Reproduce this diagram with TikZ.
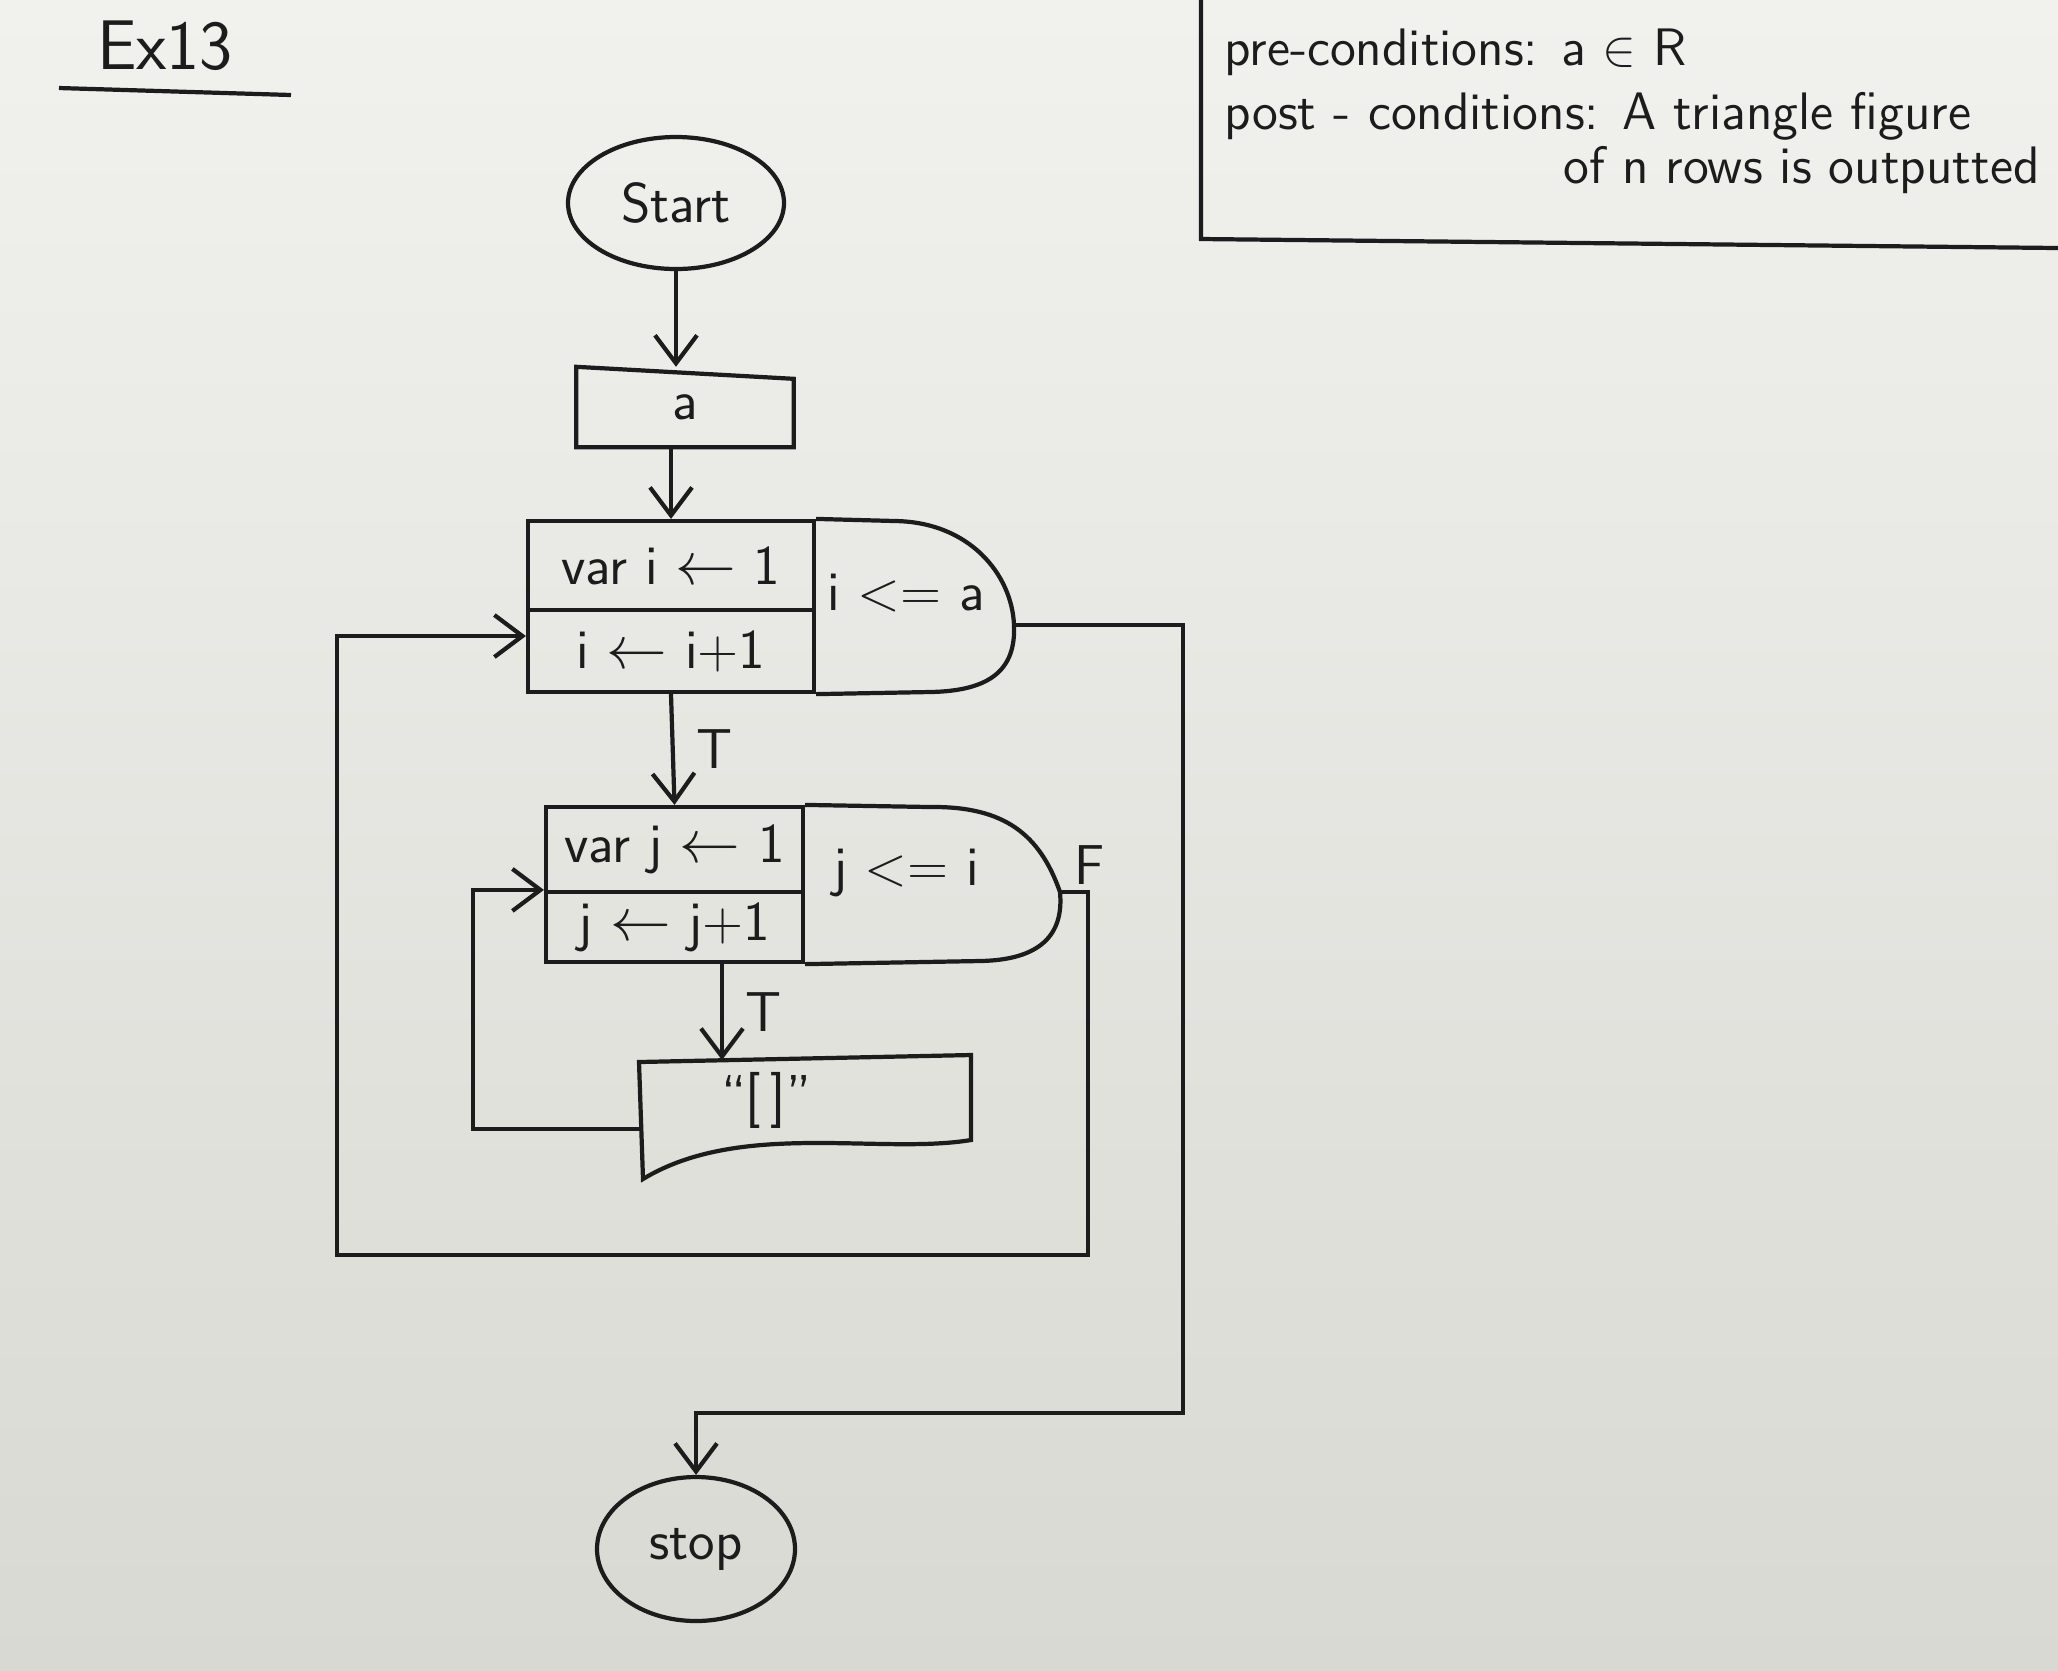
\documentclass[tikz,border=0pt]{standalone}
\usetikzlibrary{shapes,backgrounds}
\usetikzlibrary{arrows.meta,calc}
\definecolor{paper}{HTML}{F1F1EE}
\definecolor{paperlow}{HTML}{D9D9D3}
\definecolor{ink}{HTML}{1C1C1C}

\begin{document}
\begin{tikzpicture}[
  every node/.style={font=\sffamily\fontsize{16}{19}\selectfont, text=ink},
  pen/.style={draw=ink, line width=1.2pt},
  arr/.style={pen, -{Straight Barb[length=2.8mm,width=4.2mm]}},
  cell/.style={pen, rectangle, minimum width=2.86cm, inner sep=0pt},
  term/.style={pen, ellipse, inner sep=1pt},
  note/.style={font=\sffamily\fontsize{15}{18}\selectfont}
]
\shade[top color=paper, bottom color=paperlow] (0,0) rectangle (20.58,-16.70);
\useasboundingbox (0,0) rectangle (20.58,-16.70);

\node[font=\sffamily\fontsize{20}{24}\selectfont] (title) at (1.65,-0.46) {Ex13};
\draw[pen] (0.59,-0.88) -- (2.91,-0.95);

\draw[pen] (12.01,0) -- (12.01,-2.39) -- (20.58,-2.48);
\node[note, anchor=west] (pre) at (12.12,-0.52) {pre-conditions: a $\in$ R};
\node[note, anchor=west] (post) at (12.12,-1.16) {post - conditions: A triangle figure};
\node[note, anchor=east] (rows) at (20.52,-1.70) {of n rows is outputted};

\node[term, minimum width=2.16cm, minimum height=1.32cm] (start) at (6.76,-2.03) {Start};
\node[minimum width=2.16cm, minimum height=0.79cm, inner sep=0pt] (inp) at (6.85,-4.07) {a};
\draw[pen] (inp.south west) -- (inp.north west) -- ([yshift=-1.2mm]inp.north east) -- (inp.south east) -- cycle;

\node[cell, minimum height=0.89cm] (init1) at (6.71,-5.655) {var i $\leftarrow$ 1};
\node[cell, minimum height=0.82cm] (step1) at (6.71,-6.51) {i $\leftarrow$ i+1};
\coordinate (tip1) at (10.14,-6.25);
\draw[pen] (init1.north east) -- (8.95,-5.21) .. controls (9.7,-5.22) and (10.12,-5.75) .. (tip1) .. controls (10.16,-6.7) and (9.9,-6.91) .. (9.3,-6.92) -- (step1.south east);
\node (cond1) at (9.06,-5.93) {i \textless= a};

\node[cell, minimum width=2.57cm, minimum height=0.85cm] (init2) at (6.745,-8.495) {var j $\leftarrow$ 1};
\node[cell, minimum width=2.57cm, minimum height=0.70cm] (step2) at (6.745,-9.27) {j $\leftarrow$ j+1};
\coordinate (tip2) at (10.60,-8.92);
\draw[pen] (init2.north east) -- (9.3,-8.07) .. controls (10.05,-8.06) and (10.4,-8.35) .. (tip2) .. controls (10.64,-9.35) and (10.4,-9.6) .. (9.8,-9.61) -- (step2.south east);
\node (cond2) at (9.06,-8.73) {j \textless= i};
\node (fl) at (10.90,-8.65) {F};

\node (outp) at (7.66,-11.0) {``[\,]''};
\draw[pen] (6.39,-10.62) -- (9.71,-10.55) -- (9.71,-11.40) .. controls (8.8,-11.55) and (7.4,-11.2) .. (6.43,-11.79) -- cycle;
\coordinate (outtop) at (7.22,-10.60);
\coordinate (outleft) at (6.41,-11.29);

\node[term, minimum width=1.98cm, minimum height=1.44cm] (stop) at (6.96,-15.49) {stop};

\draw[arr] (start) -- (start |- inp.north);
\draw[arr] (init1.north |- inp.south) -- (init1.north);
\draw[arr] (step1.south) -- (init2.north) node[midway, right=1mm] (t1) {T};
\draw[arr] (step2.south -| outtop) -- (outtop) node[midway, right=1mm] (t2) {T};
\draw[arr] (outleft) -- (4.73,-11.29) |- (step2.north west);
\draw[arr] (tip2) -- (10.88,-8.92) -- (10.88,-12.55) -- (3.37,-12.55) |- ([yshift=1.5mm]step1.west);
\draw[arr] (tip1) -- (11.83,-6.25) -- (11.83,-14.13) -| (stop.north);
\end{tikzpicture}
\end{document}
